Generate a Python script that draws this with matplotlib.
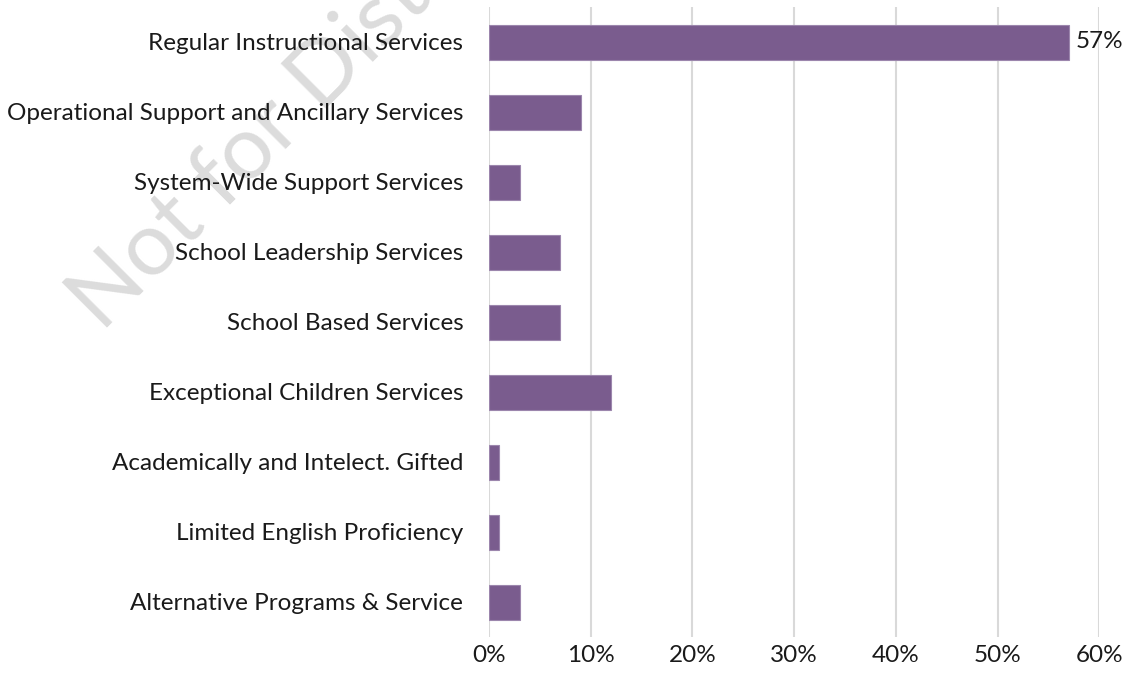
import matplotlib
matplotlib.use("Agg")
import matplotlib.pyplot as plt
from matplotlib.ticker import FuncFormatter, MultipleLocator

categories = [
    "Regular Instructional Services",
    "Operational Support and Ancillary Services",
    "System-Wide Support Services",
    "School Leadership Services",
    "School Based Services",
    "Exceptional Children Services",
    "Academically and Intelect. Gifted",
    "Limited English Proficiency",
    "Alternative Programs & Service",
]
shares = [57, 9, 3, 7, 7, 12, 1, 1, 3]  # percent of total
labelled = {0: "57%"}

plt.rcParams["font.family"] = ["Lato", "DejaVu Sans"]
FS = 17.5

fig = plt.figure(figsize=(11.30, 6.84), dpi=100)
ax = fig.add_axes([489 / 1130, 1 - 637 / 684, 610.2 / 1130, 630 / 684])
ax.patch.set_alpha(0)

ypos = list(range(len(categories)))
ax.barh(ypos, shares, height=0.5, color="#7a5c8e", edgecolor="#9c86ad",
        linewidth=0.8, zorder=3)

for i, txt in labelled.items():
    ax.annotate(txt, (shares[i], ypos[i]), xytext=(5, 0), textcoords="offset points",
                va="center", ha="left", fontsize=FS, color="#1a1a1a")

ax.set_xlim(0, 60)
ax.set_ylim(len(categories) - 0.5, -0.5)
ax.xaxis.set_major_locator(MultipleLocator(10))
ax.xaxis.set_major_formatter(FuncFormatter(lambda v, p: f"{v:.0f}%"))
ax.set_yticks(ypos)
ax.set_yticklabels(categories)
ax.tick_params(axis="both", length=0, labelsize=FS, colors="#1a1a1a")
ax.tick_params(axis="y", pad=18.5)
ax.tick_params(axis="x", pad=6)
ax.grid(axis="x", color="#d9d9d9", linewidth=1.5, zorder=0)
ax.set_axisbelow(True)
for s in ax.spines.values():
    s.set_visible(False)

# faint diagonal watermark behind everything
fig.text(102 / 1130, 1 - 333 / 684, "Not for Distribution", fontsize=64,
         rotation=45, rotation_mode="anchor", ha="left", va="baseline",
         color="#dcdcdc", zorder=-1)

fig.savefig("out.png", dpi=100)
